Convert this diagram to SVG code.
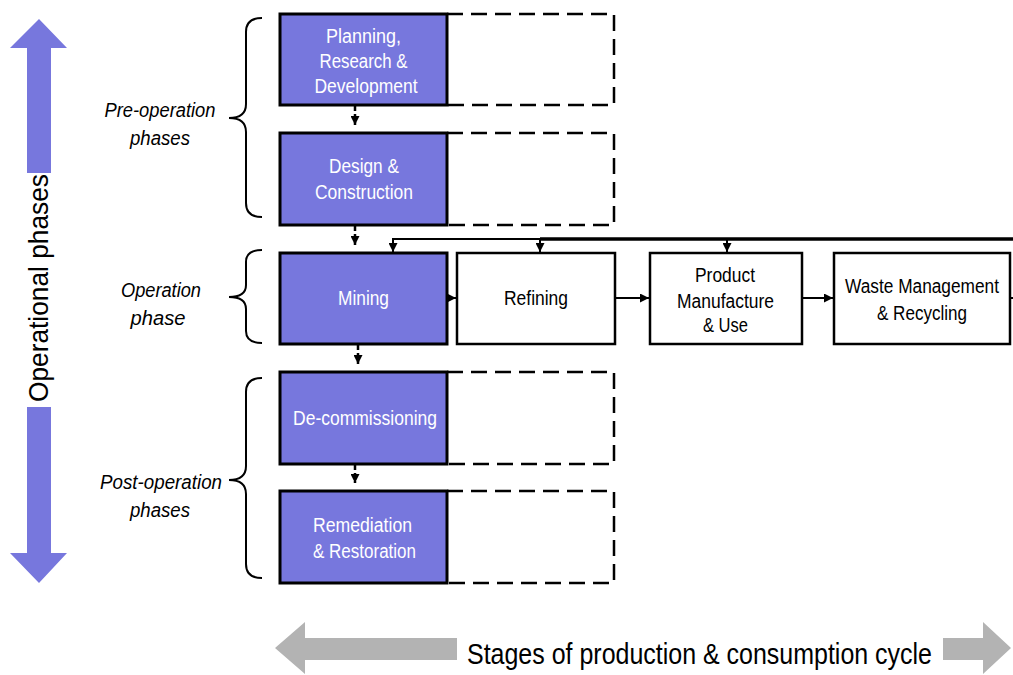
<svg xmlns="http://www.w3.org/2000/svg" width="1013" height="675" viewBox="0 0 1013 675">
<style>
.t{font-family:"Liberation Sans Narrow","Liberation Sans",Arial,sans-serif;font-size:20px;text-anchor:middle}
.w{fill:#ffffff}
.k{fill:#000000}
.it{font-style:italic}
.pbox{fill:#7777dd;stroke:#000;stroke-width:3}
.wbox{fill:#ffffff;stroke:#000;stroke-width:2.5}
.dash{fill:none;stroke:#000;stroke-width:2.5;stroke-dasharray:16 8}
.conn{fill:none;stroke:#000;stroke-width:2}
.dconn{fill:none;stroke:#000;stroke-width:2.5;stroke-dasharray:5 3}
.brace{fill:none;stroke:#000;stroke-width:2}
</style>
<defs>
<marker id="ah" markerUnits="userSpaceOnUse" markerWidth="9" markerHeight="9" viewBox="0 0 10 10" refX="10" refY="5" orient="auto">
<path d="M0,0 L10,5 L0,10 z" fill="#000"/>
</marker>
</defs>
<rect width="1013" height="675" fill="#ffffff"/>

<g id="vertical-arrow">
<polygon points="39,19 67,48 51,48 51,173 27,173 27,48 10,48" fill="#7777dd"/>
<polygon points="27,407 51,407 51,553 67,553 39,583 10,553 27,553" fill="#7777dd"/>
<text class="t k" style="font-size:28px" transform="translate(48,288) rotate(-90)" textLength="228" lengthAdjust="spacingAndGlyphs">Operational phases</text>
</g>

<g id="horizontal-arrow">
<polygon points="275,648 305,622 305,638 457,638 457,660 305,660 305,674" fill="#b3b3b3"/>
<polygon points="943,638 983,638 983,622 1011,648 983,674 983,660 943,660" fill="#b3b3b3"/>
<text class="t k" style="font-size:29px" x="699.5" y="664" textLength="465" lengthAdjust="spacingAndGlyphs">Stages of production &amp; consumption cycle</text>
</g>

<g id="brace-pre">
<path class="brace" d="M262,18 Q246,18 246,32 L246,104 Q246,118 229,118 Q246,118 246,132 L246,203 Q246,217 262,217"/>
<text class="t k it" x="160" y="117" textLength="111" lengthAdjust="spacingAndGlyphs">Pre-operation</text>
<text class="t k it" x="160" y="145" textLength="60" lengthAdjust="spacingAndGlyphs">phases</text>
</g>
<g id="brace-op">
<path class="brace" d="M262,250 Q246,250 246,262 L246,285 Q246,297 229,297 Q246,297 246,309 L246,331 Q246,343 262,343"/>
<text class="t k it" x="161" y="297" textLength="80" lengthAdjust="spacingAndGlyphs">Operation</text>
<text class="t k it" x="158" y="325" textLength="55" lengthAdjust="spacingAndGlyphs">phase</text>
</g>
<g id="brace-post">
<path class="brace" d="M262,378 Q246,378 246,392 L246,466 Q246,480 229,480 Q246,480 246,494 L246,564 Q246,578 262,578"/>
<text class="t k it" x="161" y="489" textLength="122" lengthAdjust="spacingAndGlyphs">Post-operation</text>
<text class="t k it" x="160" y="517" textLength="60" lengthAdjust="spacingAndGlyphs">phases</text>
</g>

<g id="connectors">
<path class="dconn" d="M355,106 V125" marker-end="url(#ah)"/>
<path class="dconn" d="M355,226 V245" marker-end="url(#ah)"/>
<path class="dconn" d="M358,345 V364" marker-end="url(#ah)"/>
<path class="dconn" d="M355,465 V483" marker-end="url(#ah)"/>
<path class="conn" d="M540,239 H393 V252" marker-end="url(#ah)"/>
<path fill="none" stroke="#000" stroke-width="3.5" d="M1013,239 H540"/>
<path class="conn" d="M540,239 V252" marker-end="url(#ah)"/>
<path class="conn" d="M727,239 V252" marker-end="url(#ah)"/>
<path class="conn" d="M448,298 H456" marker-end="url(#ah)"/>
<path class="conn" d="M616,298 H649" marker-end="url(#ah)"/>
<path class="conn" d="M803,298 H833" marker-end="url(#ah)"/>
<path class="conn" d="M1010,298 H1013"/>
</g>

<g id="planning">
<path class="dash" d="M447,14 H614 V105 H447"/>
<rect class="pbox" x="280" y="14" width="167" height="91"/>
<text class="t w" x="363.5" y="43" textLength="75" lengthAdjust="spacingAndGlyphs">Planning,</text>
<text class="t w" x="363.5" y="68" textLength="88" lengthAdjust="spacingAndGlyphs">Research &amp;</text>
<text class="t w" x="366" y="93" textLength="103" lengthAdjust="spacingAndGlyphs">Development</text>
</g>
<g id="design">
<path class="dash" d="M447,133 H614 V225 H447"/>
<rect class="pbox" x="280" y="133" width="167" height="92"/>
<text class="t w" x="364" y="173" textLength="70" lengthAdjust="spacingAndGlyphs">Design &amp;</text>
<text class="t w" x="364" y="199" textLength="98" lengthAdjust="spacingAndGlyphs">Construction</text>
</g>
<g id="mining">
<rect class="pbox" x="280" y="253" width="167" height="91"/>
<text class="t w" x="363.5" y="305" textLength="51" lengthAdjust="spacingAndGlyphs">Mining</text>
</g>
<g id="refining">
<rect class="wbox" x="457" y="253" width="158" height="91"/>
<text class="t k" x="536" y="305" textLength="64" lengthAdjust="spacingAndGlyphs">Refining</text>
</g>
<g id="product">
<rect class="wbox" x="650" y="253" width="152" height="91"/>
<text class="t k" x="725" y="282" textLength="60" lengthAdjust="spacingAndGlyphs">Product</text>
<text class="t k" x="725.5" y="308" textLength="97" lengthAdjust="spacingAndGlyphs">Manufacture</text>
<text class="t k" x="725.5" y="332" textLength="45" lengthAdjust="spacingAndGlyphs">&amp; Use</text>
</g>
<g id="waste">
<rect class="wbox" x="834" y="253" width="176" height="91"/>
<text class="t k" x="922" y="293" textLength="154" lengthAdjust="spacingAndGlyphs">Waste Management</text>
<text class="t k" x="922" y="320" textLength="90" lengthAdjust="spacingAndGlyphs">&amp; Recycling</text>
</g>
<g id="decommissioning">
<path class="dash" d="M447,372 H614 V464 H447"/>
<rect class="pbox" x="280" y="372" width="167" height="92"/>
<text class="t w" x="365" y="425" textLength="144" lengthAdjust="spacingAndGlyphs">De-commissioning</text>
</g>
<g id="remediation">
<path class="dash" d="M447,491 H614 V583 H447"/>
<rect class="pbox" x="280" y="491" width="167" height="92"/>
<text class="t w" x="362.5" y="532" textLength="99" lengthAdjust="spacingAndGlyphs">Remediation</text>
<text class="t w" x="364.5" y="558" textLength="103" lengthAdjust="spacingAndGlyphs">&amp; Restoration</text>
</g>
</svg>
